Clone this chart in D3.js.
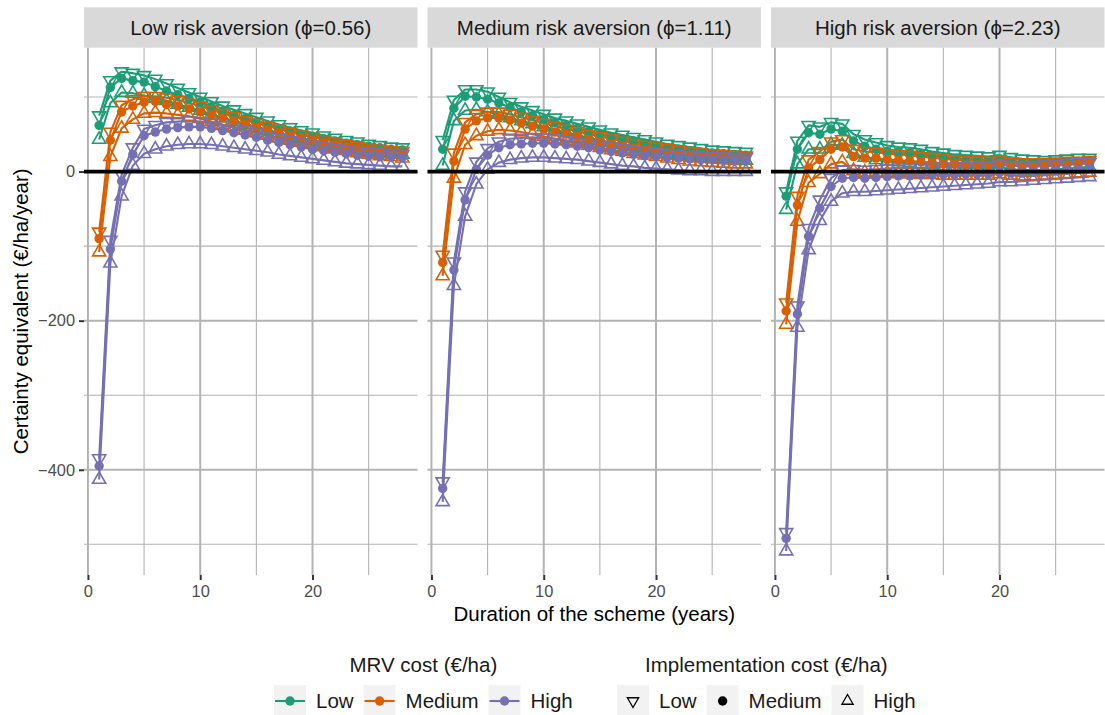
<!DOCTYPE html>
<html><head><meta charset="utf-8">
<script src="https://cdn.jsdelivr.net/npm/d3@7"></script>
<style>
body{margin:0;background:#fff}
svg{display:block}
text{font-family:"Liberation Sans",Arial,Helvetica,sans-serif}
</style>
</head><body>
<svg id="c" width="1105" height="715"></svg>
<script>
// ---------------- DATA ----------------
const years = [1,2,3,4,5,6,7,8,9,10,11,12,13,14,15,16,17,18,19,20,21,22,23,24,25,26,27,28];
const panelTitles = ["Low risk aversion (\u03D5=0.56)", "Medium risk aversion (\u03D5=1.11)", "High risk aversion (\u03D5=2.23)"];
const mrvLevels = ["Low", "Medium", "High"];
const implLevels = ["Low", "Medium", "High"];
const xMajorTicks = [0, 10, 20];
const xMinorTicks = [5, 15, 25];
const yMajorTicks = [-400, -200, 0];
const yMinorTicks = [-500, -300, -100, 100];

// Low risk aversion (phi = 0.56)
const lowRA_mrvLow_implLow   = [75,122,134,132,129,124,118,112,106,100,94,88,83,78,73,68,63,59,55,52,48,45,42,40,37,35,33,32];
const lowRA_mrvLow_implMed   = [62,113,125,122,120,114,108,103,98,93,87,81,76,71,66,62,58,54,50,47,44,41,38,36,34,32,30,29];
const lowRA_mrvLow_implHigh  = [43,92,106,105,102,99,95,90,86,82,77,72,67,63,59,55,51,47,44,41,38,35,32,30,28,26,24,23];
const lowRA_mrvMed_implLow   = [-81,53,89,97,101,101,99,96,92,88,83,78,74,69,65,61,57,53,49,46,43,40,37,34,32,30,28,27];
const lowRA_mrvMed_implMed   = [-90,42,80,88,93,94,90,88,84,80,76,72,68,64,60,56,52,48,45,42,39,36,33,31,29,27,25,24];
const lowRA_mrvMed_implHigh  = [-108,20,58,70,78,79,78,76,74,71,67,63,60,56,52,49,45,42,39,36,33,30,28,25,23,21,20,18];
const lowRA_mrvHigh_implLow  = [-385,-92,-4,32,57,62,66,67,68,67,65,62,59,55,52,48,45,42,39,36,33,31,29,27,26,25,24,23];
const lowRA_mrvHigh_implMed  = [-395,-104,-13,23,48,53,57,59,60,60,58,55,52,49,46,42,39,36,33,30,28,26,24,22,21,20,20,19];
const lowRA_mrvHigh_implHigh = [-413,-123,-33,8,24,30,34,36,37,37,36,34,32,30,28,26,23,21,19,17,15,13,11,10,9,8,7,7];

// Medium risk aversion (phi = 1.11)
const medRA_mrvLow_implLow   = [42,96,110,110,107,100,93,87,82,77,72,68,64,60,56,52,49,46,43,40,37,35,33,31,29,28,27,26];
const medRA_mrvLow_implMed   = [30,85,101,100,97,92,86,80,75,70,66,62,58,54,50,47,44,41,38,35,32,30,28,26,25,24,23,22];
const medRA_mrvLow_implHigh  = [8,68,82,83,80,77,72,68,64,60,56,52,49,45,42,39,36,33,30,28,25,23,21,19,18,17,16,15];
const medRA_mrvMed_implLow   = [-112,25,66,77,80,80,77,73,69,65,61,57,54,50,47,44,41,38,35,33,31,29,27,25,24,23,22,21];
const medRA_mrvMed_implMed   = [-122,14,57,68,72,72,69,65,61,57,53,50,47,43,40,37,34,31,29,27,25,23,21,20,19,18,17,17];
const medRA_mrvMed_implHigh  = [-140,-9,36,48,54,56,55,53,50,47,44,41,38,35,32,29,27,24,22,20,18,16,14,13,12,11,10,10];
const medRA_mrvHigh_implLow  = [-416,-121,-27,13,31,40,44,45,46,45,44,42,40,38,35,33,31,29,27,25,24,23,22,21,20,20,19,19];
const medRA_mrvHigh_implMed  = [-425,-132,-38,3,22,32,36,37,38,38,37,36,34,32,29,27,25,23,21,20,19,18,17,16,16,15,15,15];
const medRA_mrvHigh_implHigh = [-443,-153,-60,-17,3,12,16,18,19,19,18,17,16,14,12,10,8,7,5,4,3,2,1,1,0,0,0,0];

// High risk aversion (phi = 2.23)
const highRA_mrvLow_implLow   = [-27,41,62,60,66,64,50,43,39,35,33,32,30,27,25,23,22,21,20,22,19,17,16,15,16,17,18,18];
const highRA_mrvLow_implMed   = [-33,30,52,50,57,54,41,34,30,27,26,25,23,21,19,17,16,16,15,17,14,12,11,11,12,13,14,15];
const highRA_mrvLow_implHigh  = [-51,10,30,30,36,35,24,19,16,14,13,12,10,9,7,6,5,5,4,6,3,2,2,2,3,4,5,6];
const highRA_mrvMed_implLow   = [-176,-33,16,27,40,43,30,27,26,24,23,22,20,19,17,16,15,15,14,16,13,12,12,12,13,14,14,15];
const highRA_mrvMed_implMed   = [-187,-45,5,16,30,33,20,18,18,16,15,14,13,12,11,10,9,9,9,11,8,7,7,7,8,9,10,11];
const highRA_mrvMed_implHigh  = [-205,-67,-15,-3,10,13,1,-1,-1,-2,-3,-3,-4,-4,-5,-5,-5,-5,-5,-3,-5,-6,-6,-5,-4,-3,-2,-1];
const highRA_mrvHigh_implLow  = [-484,-180,-76,-38,-9,2,3,2,3,4,5,5,5,6,6,6,7,7,7,9,8,8,8,9,10,11,12,12];
const highRA_mrvHigh_implMed  = [-492,-191,-87,-49,-20,-9,-8,-9,-8,-7,-6,-6,-5,-5,-4,-4,-3,-3,-3,-1,-2,-2,-1,0,1,2,3,4];
const highRA_mrvHigh_implHigh = [-509,-209,-105,-66,-40,-29,-27,-27,-26,-25,-24,-23,-22,-21,-20,-19,-18,-17,-16,-14,-14,-13,-12,-11,-10,-9,-8,-7];

const panelData = [
  [[lowRA_mrvLow_implLow, lowRA_mrvLow_implMed, lowRA_mrvLow_implHigh],
   [lowRA_mrvMed_implLow, lowRA_mrvMed_implMed, lowRA_mrvMed_implHigh],
   [lowRA_mrvHigh_implLow, lowRA_mrvHigh_implMed, lowRA_mrvHigh_implHigh]],
  [[medRA_mrvLow_implLow, medRA_mrvLow_implMed, medRA_mrvLow_implHigh],
   [medRA_mrvMed_implLow, medRA_mrvMed_implMed, medRA_mrvMed_implHigh],
   [medRA_mrvHigh_implLow, medRA_mrvHigh_implMed, medRA_mrvHigh_implHigh]],
  [[highRA_mrvLow_implLow, highRA_mrvLow_implMed, highRA_mrvLow_implHigh],
   [highRA_mrvMed_implLow, highRA_mrvMed_implMed, highRA_mrvMed_implHigh],
   [highRA_mrvHigh_implLow, highRA_mrvHigh_implMed, highRA_mrvHigh_implHigh]]
];

// ---------------- STYLE ----------------
const mrvColors = ["#1b9e77", "#d95f02", "#7570b3"];
const implShapes = ["down", "circle", "up"];
const panelX0 = [84, 427.5, 771];
const panelW = 333.5;
const stripTop = 7.3, panelTop = 47.7, panelBottom = 575;
const gridColor = "#b3b3b3";
const TRI_R = 7.6, DOT_R = 4.7;

function shapePath(kind, r) {
  const h = r * Math.sqrt(3) / 2;
  if (kind === "up") return `M0,${-r}L${h},${r/2}L${-h},${r/2}Z`;
  if (kind === "down") return `M0,${r}L${h},${-r/2}L${-h},${-r/2}Z`;
  return null;
}

const svg = d3.select("#c");
svg.append("rect").attr("width", 1105).attr("height", 715).attr("fill", "#fff");

// scales
const allVals = panelData.flat(3);
const [yMin, yMax] = d3.extent(allVals);
const yPad = (yMax - yMin) * 0.05;
const y = d3.scaleLinear().domain([yMin - yPad, yMax + yPad]).range([panelBottom, panelTop]);
const [tMin, tMax] = d3.extent(years);
const tPad = (tMax - tMin) * 0.05;

const fmt = d => d < 0 ? "\u2212" + Math.abs(d) : String(d);

panelData.forEach((panel, pi) => {
  const x0 = panelX0[pi];
  const x = d3.scaleLinear().domain([tMin - tPad, tMax + tPad]).range([x0, x0 + panelW]);
  const g = svg.append("g");

  // strip
  g.append("rect").attr("x", x0).attr("y", stripTop).attr("width", panelW)
    .attr("height", panelTop - stripTop).attr("fill", "#d9d9d9");
  g.append("text").attr("x", x0 + panelW / 2).attr("y", (stripTop + panelTop) / 2)
    .attr("dy", "0.35em").attr("text-anchor", "middle").attr("font-size", 20.5)
    .attr("fill", "#1a1a1a").text(panelTitles[pi]);

  // grid
  const grid = g.append("g");
  grid.selectAll(".ymin").data(yMinorTicks).join("line")
    .attr("x1", x0).attr("x2", x0 + panelW).attr("y1", d => y(d)).attr("y2", d => y(d))
    .attr("stroke", gridColor).attr("stroke-width", 1.1);
  grid.selectAll(".xmin").data(xMinorTicks).join("line")
    .attr("y1", panelTop).attr("y2", panelBottom).attr("x1", d => x(d)).attr("x2", d => x(d))
    .attr("stroke", gridColor).attr("stroke-width", 1.1);
  grid.selectAll(".ymaj").data(yMajorTicks).join("line")
    .attr("x1", x0).attr("x2", x0 + panelW).attr("y1", d => y(d)).attr("y2", d => y(d))
    .attr("stroke", gridColor).attr("stroke-width", 2);
  grid.selectAll(".xmaj").data(xMajorTicks).join("line")
    .attr("y1", panelTop).attr("y2", panelBottom).attr("x1", d => x(d)).attr("x2", d => x(d))
    .attr("stroke", gridColor).attr("stroke-width", 2);

  // lines
  const line = d3.line().x((d, i) => x(years[i])).y(d => y(d));
  panel.forEach((mrv, mi) => {
    mrv.forEach((vals, ii) => {
      g.append("path").attr("d", line(vals)).attr("fill", "none")
        .attr("stroke", mrvColors[mi]).attr("stroke-width", 2.1).attr("stroke-linejoin", "round");
    });
  });
  // points
  panel.forEach((mrv, mi) => {
    mrv.forEach((vals, ii) => {
      const kind = implShapes[ii];
      const pts = g.append("g");
      if (kind === "circle") {
        pts.selectAll("circle").data(vals).join("circle")
          .attr("cx", (d, i) => x(years[i])).attr("cy", d => y(d)).attr("r", DOT_R)
          .attr("fill", mrvColors[mi]);
      } else {
        pts.selectAll("path").data(vals).join("path")
          .attr("transform", (d, i) => `translate(${x(years[i])},${y(d)})`)
          .attr("d", shapePath(kind, TRI_R)).attr("fill", "none")
          .attr("stroke", mrvColors[mi]).attr("stroke-width", 1.6);
      }
    });
  });

  // zero line
  g.append("line").attr("x1", x0).attr("x2", x0 + panelW).attr("y1", y(0)).attr("y2", y(0))
    .attr("stroke", "#000").attr("stroke-width", 3.8);

  // x axis
  const xa = svg.append("g").attr("transform", `translate(0,${panelBottom})`)
    .call(d3.axisBottom(x).tickValues(xMajorTicks).tickSize(5).tickPadding(5));
  xa.select(".domain").remove();
  xa.selectAll(".tick line").attr("stroke", "#333").attr("stroke-width", 2);
  xa.selectAll(".tick text").attr("font-size", 16.4).attr("fill", "#4d4d4d")
    .attr("font-family", '"Liberation Sans",Arial,sans-serif');

  if (pi === 0) {
    const ya = svg.append("g").attr("transform", `translate(${x0},0)`)
      .call(d3.axisLeft(y).tickValues(yMajorTicks).tickFormat(fmt).tickSize(5).tickPadding(4));
    ya.select(".domain").remove();
    ya.selectAll(".tick line").attr("stroke", "#333").attr("stroke-width", 2);
    ya.selectAll(".tick text").attr("font-size", 16.4).attr("fill", "#4d4d4d")
      .attr("font-family", '"Liberation Sans",Arial,sans-serif');
  }
});

// axis titles
svg.append("text").attr("x", (panelX0[0] + panelX0[2] + panelW) / 2).attr("y", 621)
  .attr("text-anchor", "middle").attr("font-size", 20.5).attr("fill", "#000")
  .text("Duration of the scheme (years)");
svg.append("text").attr("transform", `translate(28,${(panelTop + panelBottom) / 2}) rotate(-90)`)
  .attr("text-anchor", "middle").attr("font-size", 20.5).attr("fill", "#000")
  .text("Certainty equivalent (\u20AC/ha/year)");

// legends
const KEY = 32, keyCY = 701;
function legend(x0, title, levels, drawKey) {
  const lg = svg.append("g");
  let cx = x0;
  levels.forEach((lab, i) => {
    lg.append("rect").attr("x", cx).attr("y", keyCY - KEY / 2).attr("width", KEY).attr("height", KEY)
      .attr("fill", "#f2f2f2");
    drawKey(lg, cx + KEY / 2, keyCY, i);
    const t = lg.append("text").attr("x", cx + KEY + 10).attr("y", keyCY).attr("dy", "0.35em")
      .attr("font-size", 20.5).attr("fill", "#1a1a1a").text(lab);
    cx += KEY + 10 + t.node().getComputedTextLength() + 10;
  });
  const width = cx - 10 - x0;
  lg.append("text").attr("x", x0 + width / 2).attr("y", 672).attr("text-anchor", "middle")
    .attr("font-size", 20.5).attr("fill", "#1a1a1a").text(title);
}
legend(274, "MRV cost (\u20AC/ha)", mrvLevels, (g, cx, cy, i) => {
  g.append("line").attr("x1", cx - KEY / 2 + 1).attr("x2", cx + KEY / 2 - 1).attr("y1", cy).attr("y2", cy)
    .attr("stroke", mrvColors[i]).attr("stroke-width", 2.1);
  g.append("circle").attr("cx", cx).attr("cy", cy).attr("r", DOT_R).attr("fill", mrvColors[i]);
});
legend(617, "Implementation cost (\u20AC/ha)", implLevels, (g, cx, cy, i) => {
  const kind = implShapes[i];
  if (kind === "circle") g.append("circle").attr("cx", cx).attr("cy", cy).attr("r", DOT_R).attr("fill", "#000");
  else g.append("path").attr("transform", `translate(${cx},${cy})`).attr("d", shapePath(kind, 6.5))
    .attr("fill", "none").attr("stroke", "#000").attr("stroke-width", 1.3);
});
</script>
</body></html>
